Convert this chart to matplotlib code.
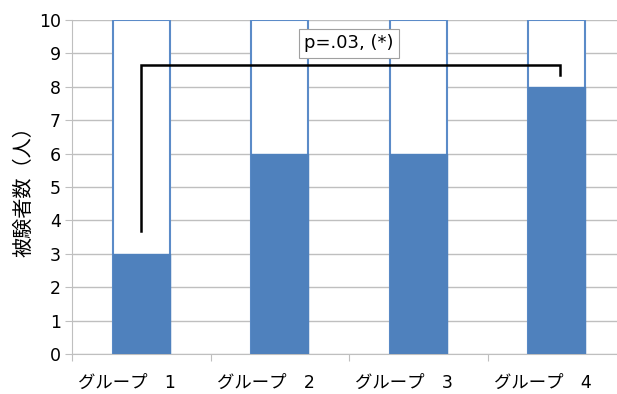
import matplotlib
matplotlib.use('Agg')
import matplotlib.pyplot as plt
import matplotlib.transforms as mtransforms
import numpy as np

# wide latin digits from DejaVu, katakana / kanji from Noto CJK
plt.rcParams['font.family'] = ['DejaVu Sans', 'Noto Sans CJK JP']

# data
groups = ['グループ　1', 'グループ　2', 'グループ　3', 'グループ　4']
positive = [3, 6, 6, 8]
total = [10, 10, 10, 10]
y_ticks = list(range(0, 11))
y_label = '被験者数（人）'
note = 'p=.03, (*)'

fill_color = '#4F81BD'
edge_color = '#5B8BC8'
grid_color = '#BFBFBF'
fs = 12.5

fig = plt.figure(figsize=(6.17, 3.94), dpi=100)
ax = fig.add_axes([72 / 617, 1 - 354 / 394, 554 / 617, 334 / 394])

x = np.arange(len(groups))
bar_w = 0.41

# outline bars for the total, filled bars for the count
ax.bar(x, total, width=bar_w, facecolor='white', edgecolor=edge_color,
       linewidth=1.5, zorder=2)
ax.bar(x, positive, width=bar_w, color=fill_color, edgecolor=fill_color,
       linewidth=1.0, zorder=3)

# significance bracket between group 1 and group 4
ax.plot([0, 0, 3.02, 3.02], [3.68, 8.65, 8.65, 8.35], color='black',
        linewidth=1.8, solid_joinstyle='miter', zorder=4)
ax.text(1.5, 9.3, note, ha='center', va='center', fontsize=13, zorder=5,
        bbox=dict(boxstyle='square,pad=0.3', facecolor='white',
                  edgecolor='#A0A0A0', linewidth=0.8))

ax.set_xlim(-0.5, len(groups) - 0.5)
ax.set_ylim(0, 10)
ax.set_yticks(y_ticks)
ax.set_yticklabels([str(v) for v in y_ticks], fontsize=fs)
ax.yaxis.grid(True, color=grid_color, linewidth=1.0, zorder=0)
ax.set_axisbelow(True)

# category boundaries get the tick marks, labels sit in the middle
ax.set_xticks(np.arange(len(groups) + 1) - 0.5)
ax.set_xticklabels([])
ax.set_xticks(x, minor=True)
ax.set_xticklabels(groups, minor=True, fontsize=fs)
ax.tick_params(axis='x', which='major', length=5, color=grid_color, direction='out')
ax.tick_params(axis='x', which='minor', length=0, pad=14)
ax.tick_params(axis='y', length=5, color=grid_color, pad=3)

# excel puts the category labels a little left of the bar centres
shift = mtransforms.ScaledTranslation(-14 / 100, 0, fig.dpi_scale_trans)
for lbl in ax.get_xticklabels(minor=True):
    lbl.set_transform(lbl.get_transform() + shift)

for side in ['top', 'right']:
    ax.spines[side].set_visible(False)
ax.spines['left'].set_color(grid_color)
ax.spines['bottom'].set_color(grid_color)

ax.set_ylabel(y_label, fontsize=14.5, labelpad=3, family='Noto Sans CJK JP')

fig.savefig('out.png', dpi=100, facecolor='white')
